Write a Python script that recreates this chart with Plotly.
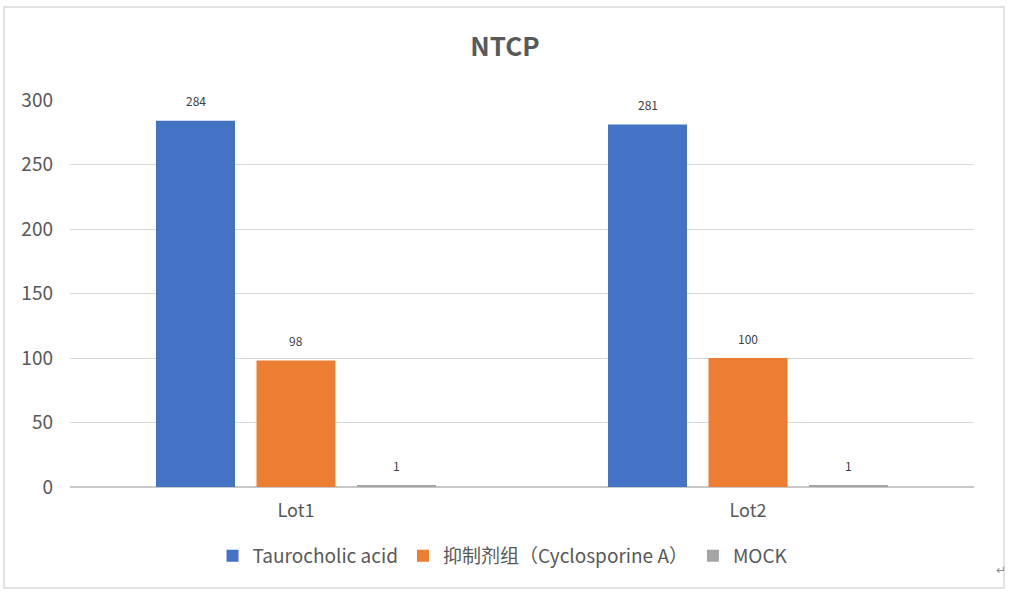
import plotly.graph_objects as go

# data
lots = ["Lot1", "Lot2"]
series_names = ["Taurocholic acid", "抑制剂组（Cyclosporine A）", "MOCK"]
taurocholic = [284, 281]
cyclosporine = [98, 100]
mock = [1, 1]
colors = ["#4472C4", "#ED7D31", "#A5A5A5"]

FONT = "Noto Sans CJK SC, DejaVu Sans, sans-serif"
BARGAP = 0.333
GROUPGAP = 0.214

all_series = [taurocholic, cyclosporine, mock]

fig = go.Figure()
for name, vals, col in zip(series_names, all_series, colors):
    fig.add_trace(go.Bar(
        x=lots, y=vals, name=name,
        marker=dict(color=col, line=dict(width=0)),
    ))

# value labels above each bar, placed at the group offsets of the bars
slot = (1 - BARGAP) / len(all_series)
annotations = []
for j, vals in enumerate(all_series):
    for i, v in enumerate(vals):
        annotations.append(dict(
            x=i + (j - (len(all_series) - 1) / 2) * slot, y=v,
            xref="x", yref="y", text=str(v), showarrow=False,
            yshift=20, font=dict(size=12, color="#404040", family=FONT),
        ))

# the little return mark that sits outside the chart frame
annotations.append(dict(x=1.038, y=-0.238, xref="paper", yref="paper",
                        text="↵", showarrow=False, xanchor="right",
                        font=dict(size=12, color="#8C8C8C", family="DejaVu Sans")))

fig.update_layout(
    width=1010, height=597,
    margin=dict(l=70, r=36, t=100, b=110, autoexpand=False),
    paper_bgcolor="white", plot_bgcolor="white",
    font=dict(family=FONT, color="#595959"),
    title=dict(text="<b>NTCP</b>", x=0.5, xref="container", xanchor="center",
               y=0.921, yanchor="middle", font=dict(size=26, color="#595959")),
    barmode="group", bargap=BARGAP, bargroupgap=GROUPGAP,
    showlegend=True,
    legend=dict(orientation="h", x=0.479, xanchor="center",
                y=-0.178, yanchor="middle", font=dict(size=19, color="#595959"),
                itemclick=False, traceorder="normal", itemwidth=30,
                tracegroupgap=0),
    xaxis=dict(showgrid=False, showline=False, ticks="",
               tickfont=dict(size=18, color="#595959"), ticklabelstandoff=11),
    yaxis=dict(range=[0, 300], dtick=50, showgrid=True, gridcolor="#D9D9D9",
               gridwidth=1.3, zeroline=True, zerolinecolor="#C8C8C8",
               zerolinewidth=1.5, showline=False, ticks="",
               tickfont=dict(size=19, color="#595959"), ticklabelstandoff=16),
    annotations=annotations,
    shapes=[dict(type="rect", xref="paper", yref="paper",
                 x0=-0.073, x1=1.0332, y0=-0.261, y1=1.2403,
                 line=dict(color="#D9D9D9", width=1.5), layer="below")],
)

# drop the default page margin so the figure starts at the window corner
fig.write_html("out.html", config={"displayModeBar": False},
               post_script="document.body.style.margin='0';")
